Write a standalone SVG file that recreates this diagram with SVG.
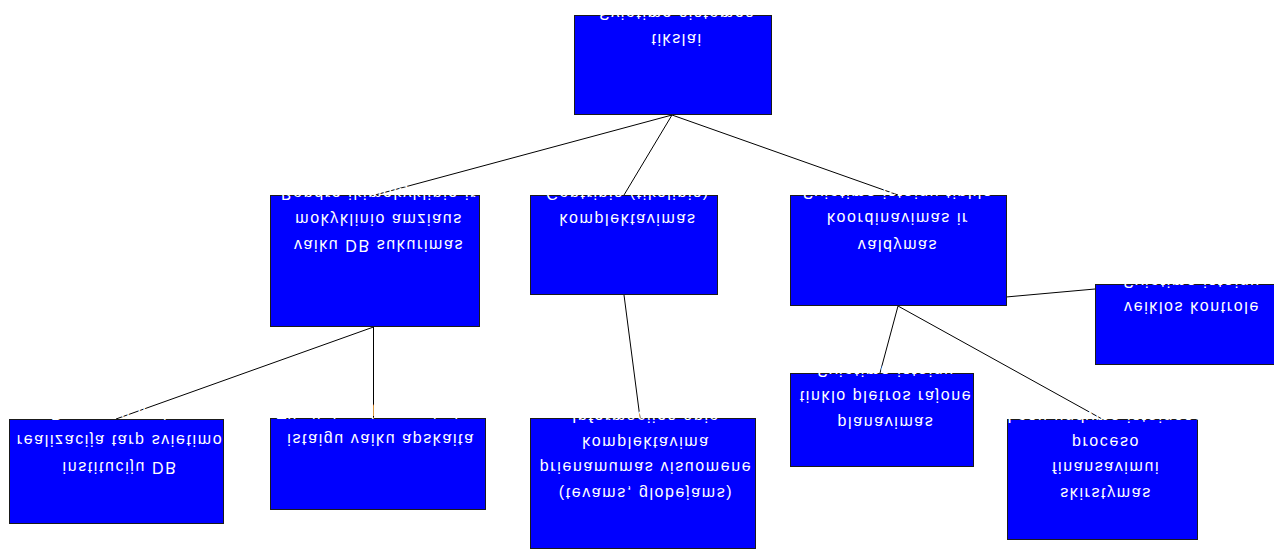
<svg xmlns="http://www.w3.org/2000/svg" width="1274" height="549" viewBox="0 0 1274 549">
<style>
.box{fill:#0000FF;stroke:#1a1a1a;stroke-width:1}
.t{font-family:"Liberation Sans",Arial,sans-serif;font-size:16px;fill:#ffffff;text-anchor:middle;letter-spacing:1.6px}
.c{stroke:#000000;stroke-width:1;fill:none}
</style>
<rect width="1274" height="549" fill="#ffffff"/>
<g id="connectors">
<line class="c" x1="672" y1="115" x2="375" y2="195"/>
<line class="c" x1="672" y1="115" x2="624" y2="195"/>
<line class="c" x1="672" y1="115" x2="898" y2="195"/>
<line class="c" x1="373.5" y1="327" x2="116" y2="419"/>
<line class="c" x1="373.5" y1="327" x2="373.5" y2="418"/>
<line class="c" x1="624" y1="295" x2="640" y2="418"/>
<line class="c" x1="898" y1="306" x2="880" y2="373"/>
<line class="c" x1="898" y1="306" x2="1102" y2="419"/>
<line class="c" x1="1006" y1="297" x2="1095" y2="289"/>
</g>
<g id="n1">
<rect class="box" x="574.5" y="15.5" width="197" height="99"/>
<text class="t" transform="translate(677,7.5) scale(1,-1)">Svietimo sistemos</text>
<text class="t" transform="translate(677,33.5) scale(1,-1)">tikslai</text>
</g>
<g id="n2">
<rect class="box" x="270.5" y="195.5" width="209" height="131"/>
<text class="t" transform="translate(379,187.5) scale(1,-1)">Bendro ikimokyklinio ir</text>
<text class="t" transform="translate(379,213.5) scale(1,-1)">mokyklinio amziaus</text>
<text class="t" transform="translate(379,239.5) scale(1,-1)">vaiku DB sukurimas</text>
</g>
<g id="n3">
<rect class="box" x="530.5" y="195.5" width="187" height="99"/>
<text class="t" transform="translate(628,187.5) scale(1,-1)">Centrinis (tikslinis)</text>
<text class="t" transform="translate(628,213.5) scale(1,-1)">komplektavimas</text>
</g>
<g id="n4">
<rect class="box" x="790.5" y="195.5" width="216" height="110"/>
<text class="t" transform="translate(898,187) scale(1,-1)">Svietimo istaigu tinklo</text>
<text class="t" transform="translate(898,213) scale(1,-1)">koordinavimas ir</text>
<text class="t" transform="translate(898,239.5) scale(1,-1)">valdymas</text>
</g>
<g id="n5">
<rect class="box" x="1095.5" y="284.5" width="194" height="80"/>
<text class="t" transform="translate(1192,275.5) scale(1,-1)">Svietimo istaigu</text>
<text class="t" transform="translate(1192,301.7) scale(1,-1)">veiklos kontrole</text>
</g>
<g id="n6">
<rect class="box" x="9.5" y="419.5" width="214" height="104"/>
<text class="t" transform="translate(120,408) scale(1,-1)">Duomenu mainu</text>
<text class="t" transform="translate(120,434.5) scale(1,-1)">realizacija tarp svietimo</text>
<text class="t" transform="translate(120,461.5) scale(1,-1)">instituciju DB</text>
</g>
<g id="n7">
<rect class="box" x="270.5" y="418.5" width="215" height="91"/>
<text class="t" transform="translate(381,407) scale(1,-1)">Tikslinis rajono svietimo</text>
<text class="t" transform="translate(381,433.5) scale(1,-1)">istaigu vaiku apskaita</text>
</g>
<g id="n8">
<rect class="box" x="530.5" y="418.5" width="225" height="130"/>
<text class="t" transform="translate(646,410.5) scale(1,-1)">Informacijos apie</text>
<text class="t" transform="translate(646,436.5) scale(1,-1)">komplektavima</text>
<text class="t" transform="translate(646,461.5) scale(1,-1)">prienamumas visuomene</text>
<text class="t" transform="translate(646,487.5) scale(1,-1)">(tevams, globejams)</text>
</g>
<g id="n9">
<rect class="box" x="790.5" y="373.5" width="183" height="93"/>
<text class="t" transform="translate(886,364.5) scale(1,-1)">Svietimo istaigu</text>
<text class="t" transform="translate(886,390.7) scale(1,-1)">tinklo pletros rajone</text>
<text class="t" transform="translate(886,417) scale(1,-1)">planavimas</text>
</g>
<g id="n10">
<rect class="box" x="1007.5" y="419.5" width="190" height="120"/>
<text class="t" transform="translate(1106,410.5) scale(1,-1)">Lesu ugdymo istaigose</text>
<text class="t" transform="translate(1106,436.7) scale(1,-1)">proceso</text>
<text class="t" transform="translate(1106,462.3) scale(1,-1)">finansavimui</text>
<text class="t" transform="translate(1106,488.3) scale(1,-1)">skirstymas</text>
</g>
</svg>
